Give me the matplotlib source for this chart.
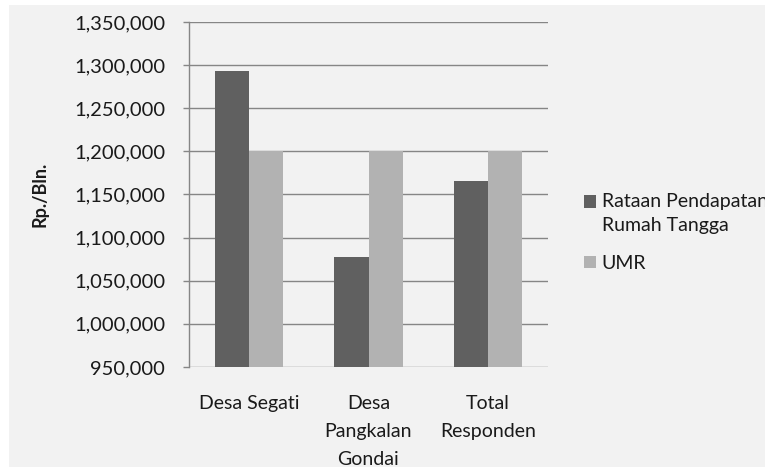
import matplotlib
matplotlib.use("Agg")
import matplotlib.pyplot as plt
from matplotlib.patches import Rectangle
from matplotlib.legend_handler import HandlerPatch
from matplotlib.ticker import FuncFormatter
import numpy as np

categories = ["Desa Segati", "Desa\nPangkalan\nGondai", "Total\nResponden"]
series_names = ["Rataan Pendapatan\nRumah Tangga", "UMR"]
pendapatan = [1293000, 1077000, 1166000]
umr = [1200000, 1200000, 1200000]
yticks = [950000, 1000000, 1050000, 1100000, 1150000, 1200000, 1250000, 1300000, 1350000]

plt.rcParams["font.family"] = ["Lato", "DejaVu Sans"]

W, H = 765, 467
PT = 72 / 100  # points per pixel at 100 dpi
fig = plt.figure(figsize=(W / 100, H / 100), dpi=100, facecolor="white")
fig.patches.append(Rectangle((9 / W, 0), 1 - 9 / W, 1 - 5 / H, transform=fig.transFigure,
                             facecolor="#f2f2f2", edgecolor="none", zorder=-10))

ax = fig.add_axes([189 / W, 1 - 367 / H, (548 - 189) / W, (367 - 22) / H])
ax.set_facecolor("none")

x = np.arange(len(categories))
bw = 0.285
b1 = ax.bar(x - bw / 2, pendapatan, bw, color="#606060", zorder=3)
b2 = ax.bar(x + bw / 2, umr, bw, color="#b2b2b2", zorder=3)

ax.set_xlim(-0.5, len(categories) - 0.5)
ax.set_ylim(yticks[0], yticks[-1])
ax.set_yticks(yticks)
ax.yaxis.set_major_formatter(FuncFormatter(lambda v, p: f"{v:,.0f}"))
ax.set_xticks(x)
ax.set_xticklabels(categories, fontsize=14, linespacing=1.8, color="#1a1a1a")
ax.tick_params(axis="x", length=0, pad=28 * PT)
ax.tick_params(axis="y", length=6 * PT, width=1, color="#868686", pad=18 * PT,
               labelsize=14.5, labelcolor="#1a1a1a")

ax.grid(axis="y", color="#868686", linewidth=1, zorder=0)
for s in ["top", "right", "bottom"]:
    ax.spines[s].set_visible(False)
ax.spines["left"].set_color("#868686")
ax.spines["left"].set_linewidth(1)

ax.set_ylabel("Rp./Bln.", fontsize=13, fontweight="bold", labelpad=18, color="#1a1a1a")


def square_at(dy):
    # legend key drawn as a square, raised to sit beside the first text line
    def make(legend, orig_handle, xdescent, ydescent, width, height, fontsize):
        return Rectangle((-xdescent, -ydescent + dy), width, height)
    return HandlerPatch(patch_func=make)


leg = ax.legend([b1[0], b2[0]], series_names, loc="upper left",
                bbox_to_anchor=(574 / W, 1 - 183 / H), bbox_transform=fig.transFigure,
                frameon=False, fontsize=14, handlelength=0.62, handleheight=0.62,
                handletextpad=0.3, labelspacing=1.05, borderpad=0,
                handler_map={b1[0]: square_at(12 * PT), b2[0]: square_at(0)})
for t in leg.get_texts():
    t.set_color("#1a1a1a")
    t.set_linespacing(1.55)

fig.savefig("out.png", dpi=100, facecolor="white")
